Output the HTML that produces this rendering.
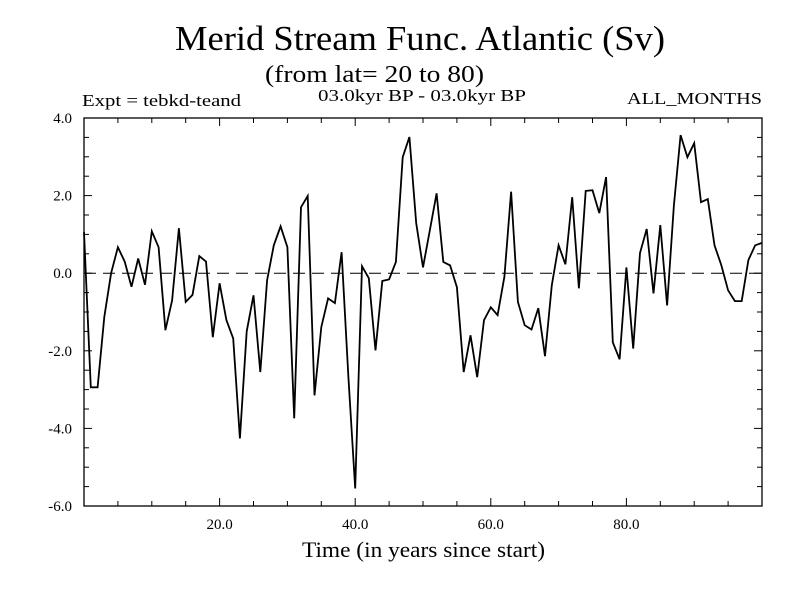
<!DOCTYPE html>
<html><head><meta charset="utf-8"><style>
body{margin:0;background:#fff}
svg text{font-family:"Liberation Serif",serif;fill:#000}
</style></head><body>
<svg id="chart" width="800" height="600" viewBox="0 0 800 600" xmlns="http://www.w3.org/2000/svg">
<text x="175" y="50" font-size="35" textLength="490" lengthAdjust="spacingAndGlyphs">Merid Stream Func. Atlantic (Sv)</text>
<text x="265" y="82" font-size="24" textLength="219" lengthAdjust="spacingAndGlyphs">(from lat= 20 to 80)</text>
<text x="82" y="106" font-size="17" textLength="159" lengthAdjust="spacingAndGlyphs">Expt = tebkd-teand</text>
<text x="318" y="101" font-size="17" textLength="208" lengthAdjust="spacingAndGlyphs">03.0kyr BP - 03.0kyr BP</text>
<text x="627" y="104" font-size="17" textLength="135" lengthAdjust="spacingAndGlyphs">ALL_MONTHS</text>
<text x="302" y="557" font-size="22" textLength="243" lengthAdjust="spacingAndGlyphs">Time (in years since start)</text>
<g id="axes"></g>
<g id="plot"></g>
</svg>
<script>
const yTickValues = [4, 2, 0, -2, -4, -6];
const yTickLabels = ["4.0", "2.0", "0.0", "-2.0", "-4.0", "-6.0"];
const xTickValues = [20, 40, 60, 80];
const xTickLabels = ["20.0", "40.0", "60.0", "80.0"];
const years = [];
const streamValues = [1.06,-2.94,-2.94,-1.13,0,0.67,0.3,-0.35,0.38,-0.3,1.08,0.67,-1.47,-0.7,1.16,-0.74,-0.56,0.44,0.3,-1.65,-0.26,-1.21,-1.68,-4.26,-1.5,-0.57,-2.55,-0.18,0.72,1.21,0.67,-3.74,1.7,1.99,-3.15,-1.39,-0.65,-0.77,0.54,-2.68,-5.55,0.18,-0.13,-1.99,-0.2,-0.16,0.29,2.99,3.51,1.29,0.15,1.1,2.06,0.29,0.2,-0.36,-2.55,-1.6,-2.68,-1.21,-0.88,-1.08,-0.09,2.1,-0.74,-1.34,-1.45,-0.9,-2.14,-0.31,0.72,0.23,1.96,-0.39,2.12,2.14,1.55,2.48,-1.78,-2.22,0.15,-1.94,0.52,1.14,-0.52,1.24,-0.83,1.75,3.56,2.99,3.35,1.83,1.91,0.72,0.21,-0.44,-0.72,-0.72,0.34,0.72,0.78];
for (let i = 0; i < streamValues.length; i++) years.push(i);

const L = 84, R = 762, T = 118, B = 506;
const xMin = 0, xMax = 100, yMin = -6, yMax = 4;
function xs(v){ return L + (v - xMin) / (xMax - xMin) * (R - L); }
function ys(v){ return B - (v - yMin) / (yMax - yMin) * (B - T); }
const NS = "http://www.w3.org/2000/svg";
const axes = document.getElementById('axes');
const plot = document.getElementById('plot');
function mk(tag, attrs, parent){
  const e = document.createElementNS(NS, tag);
  for (const k in attrs) e.setAttribute(k, attrs[k]);
  parent.appendChild(e); return e;
}
const frame = mk('rect', {x:L, y:T, width:R-L, height:B-T, fill:'none', stroke:'#000', 'stroke-width':1.3}, axes);


for (let v = yMin; v <= yMax + 1e-9; v += 0.5) {
  const y = ys(v);
  const len = Math.abs(v % 2) < 1e-9 ? 8 : 5;
  const t1 = mk('line', {x1:L, x2:L+len, y1:y, y2:y, stroke:'#000', 'stroke-width':1}, axes);
  
  
  const t2 = mk('line', {x1:R-len, x2:R, y1:y, y2:y, stroke:'#000', 'stroke-width':1}, axes);
  
  
}
for (let v = 5; v < xMax; v += 5) {
  const x = xs(v);
  const len = v % 20 === 0 ? 8 : 5;
  const t1 = mk('line', {x1:x, x2:x, y1:B, y2:B-len, stroke:'#000', 'stroke-width':1}, axes);
  
  
  const t2 = mk('line', {x1:x, x2:x, y1:T, y2:T+len, stroke:'#000', 'stroke-width':1}, axes);
  
  
}
yTickValues.forEach((v, i) => {
  const t = mk('text', {x:72, y:ys(v)+5, 'font-size':15, 'text-anchor':'end'}, axes);
  t.textContent = yTickLabels[i];
  
  
});
xTickValues.forEach((v, i) => {
  const t = mk('text', {x:xs(v), y:529, 'font-size':15, 'text-anchor':'middle'}, axes);
  t.textContent = xTickLabels[i];
  
  
});
const zero = mk('line', {x1:L, x2:R, y1:ys(0), y2:ys(0), stroke:'#000', 'stroke-width':1, 'stroke-dasharray':'12,7'}, plot);


const pts = streamValues.map((v, i) => xs(years[i]).toFixed(1) + ',' + ys(v).toFixed(1)).join(' ');
const line = mk('polyline', {points:pts, fill:'none', stroke:'#000', 'stroke-width':1.8, 'stroke-linejoin':'miter'}, plot);


</script>
</body></html>
